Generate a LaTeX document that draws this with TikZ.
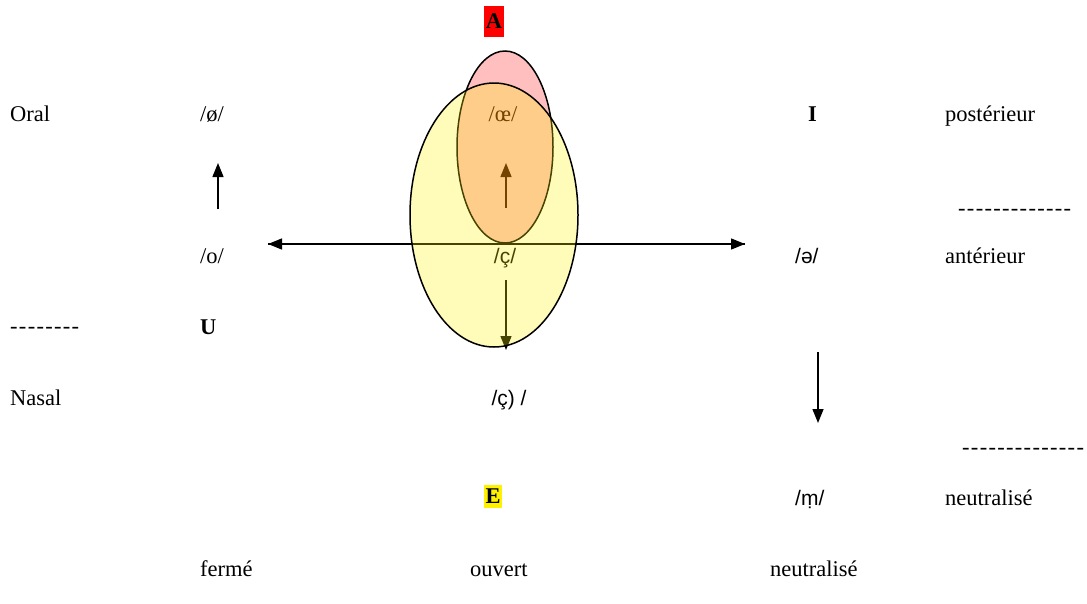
\documentclass[tikz,border=0pt]{standalone}
\usepackage{fontspec}
\setmainfont{Liberation Serif}
\newfontfamily\ipasans{Liberation Sans}
\usetikzlibrary{arrows.meta}
\newcommand\hyrun[1]{\foreach \i in {1,...,#1}{-\kern1.3pt}}
\begin{document}
\begin{tikzpicture}[x=1pt,y=-1pt,
  lbl/.style={anchor=base west,inner sep=0pt,font=\fontsize{22.5}{27}\selectfont},
  clbl/.style={anchor=base,inner sep=0pt,font=\fontsize{22.5}{27}\selectfont},
  slbl/.style={font=\fontsize{21}{25}\selectfont\ipasans},
  arr/.style={line width=1.4pt,-{Triangle[length=14pt,width=11pt]}},
  ovl/.style={line width=1.5pt,draw=black}]
\useasboundingbox (0,0) rectangle (1087,603);
% texts
\node[lbl] (oral) at (10,121) {Oral};
\node[lbl] (oe) at (200,121) {/ø/};
\node[lbl] (I) at (808,121) {\textbf{I}};
\node[lbl] (post) at (945,121) {postérieur};
\node[lbl] (d1) at (958,215) {\hyrun{13}};
\node[lbl] (o) at (200,263) {/o/};
\node[lbl,slbl] (schwa) at (795,263) {/ə/};
\node[lbl] (ant) at (945,263) {antérieur};
\node[lbl] (d2) at (10,333) {\hyrun{8}};
\node[lbl] (U) at (200,334) {\textbf{U}};
\node[lbl] (nasal) at (10,405) {Nasal};
\node[clbl,slbl] (cnas) at (509,405) {/ç) /};
\node[lbl] (d3) at (962,454) {\hyrun{14}};
\node[anchor=center,fill=yellow,inner xsep=1.5pt,minimum height=23pt,font=\fontsize{22.5}{27}\selectfont] (E) at (493,496) {\textbf{E}};
\node[lbl,slbl] (m) at (795,505) {/ṃ/};
\node[lbl] (neut1) at (945,505) {neutralisé};
\node[lbl] (ferme) at (200,576) {fermé};
\node[lbl] (ouv) at (470,576) {ouvert};
\node[lbl] (neut2) at (770,576) {neutralisé};
\node[anchor=center,fill=red,inner xsep=2pt,minimum height=31pt,font=\fontsize{22.5}{27}\selectfont] (A) at (494,21) {\textbf{A}};
% arrows
\coordinate (hl) at (268,244);
\coordinate (hr) at (745,244);
\coordinate (lu1) at (218,209);
\coordinate (lu2) at (218,163);
\coordinate (cu1) at (506,208);
\coordinate (cu2) at (506,163);
\coordinate (cd1) at (506,280);
\coordinate (cd2) at (506,350);
\coordinate (rd1) at (818,352);
\coordinate (rd2) at (818,423);
\draw[arr] (hr) -- (hl);
\draw[arr] (hl) -- (hr);
\draw[arr] (lu1) -- (lu2);
\draw[arr] (cu1) -- (cu2);
\draw[arr] (cd1) -- (cd2);
\draw[arr] (rd1) -- (rd2);
\node[clbl] (oecent) at (503,121) {/œ/};
\node[clbl,slbl,fill=white,inner xsep=3pt,inner ysep=2pt] (cc) at (505,263) {/ç/};
% ellipses
\draw[ovl,fill=red,fill opacity=0.25] (505,147) ellipse [x radius=48,y radius=96];
\draw[ovl,fill=yellow,fill opacity=0.28] (494,215) ellipse [x radius=84,y radius=132];
\end{tikzpicture}
\end{document}
